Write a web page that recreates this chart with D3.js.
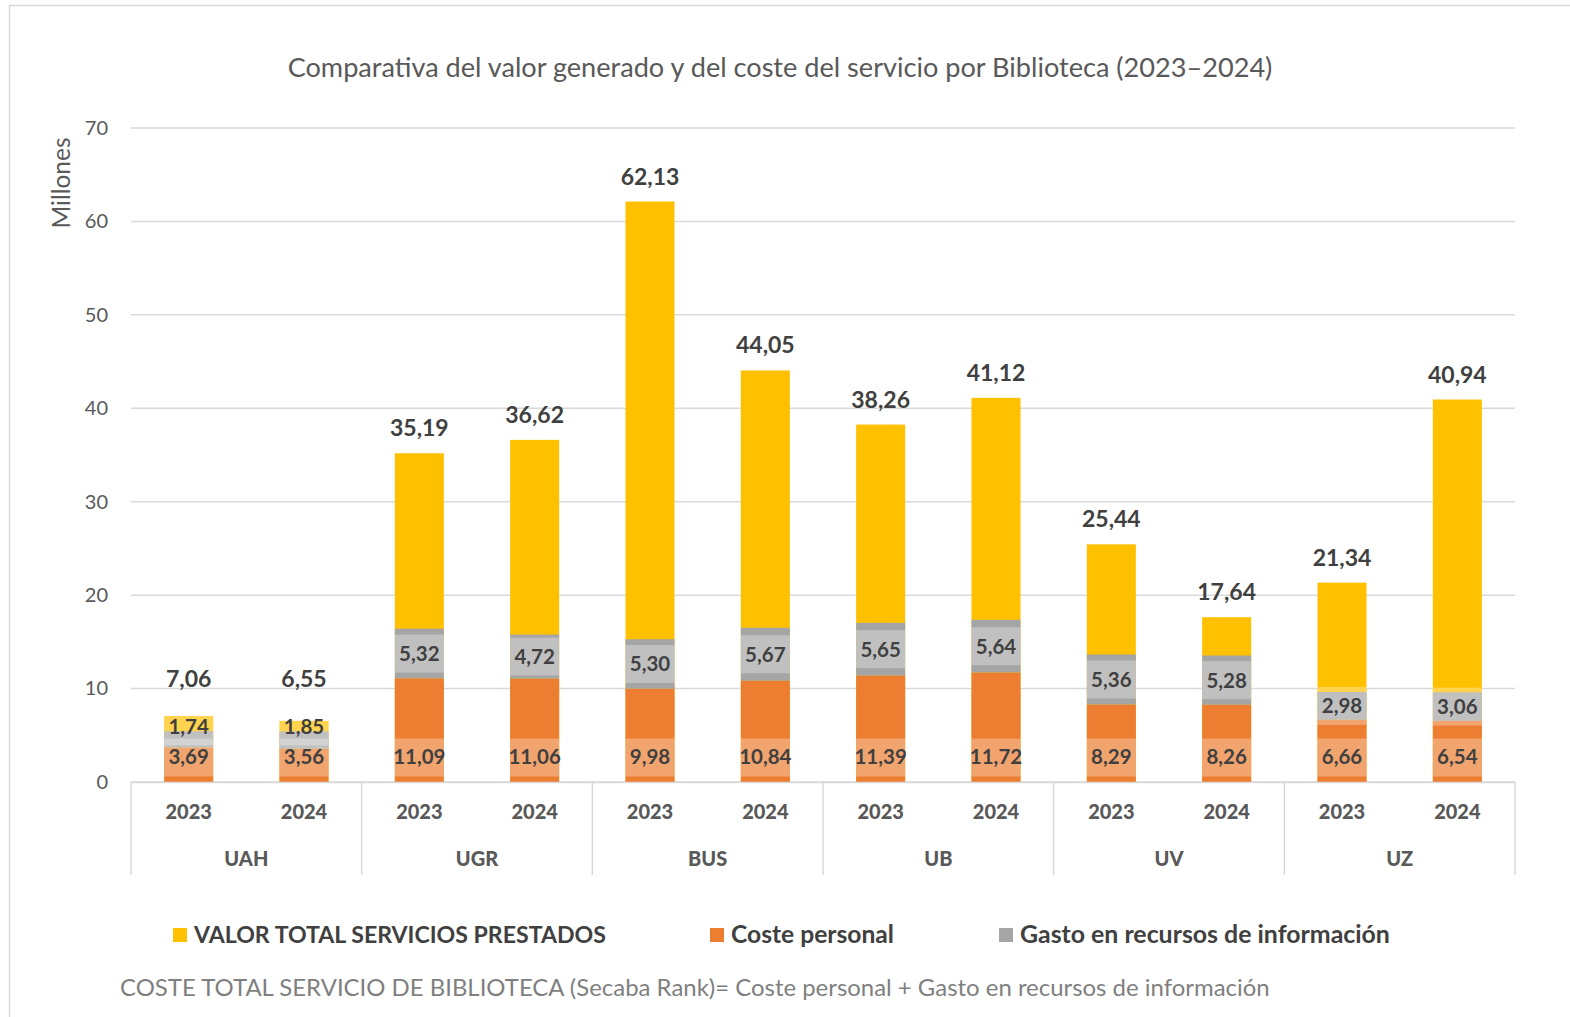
<!DOCTYPE html>
<html><head><meta charset="utf-8">
<script src="https://cdn.jsdelivr.net/npm/d3@7"></script>
<style>html,body{margin:0;padding:0;background:#fff;} svg{display:block;font-family:Lato,"Open Sans",sans-serif;}</style>
</head><body>
<svg id="c" width="1570" height="1017"></svg>
<script>
const groups = ["UAH","UGR","BUS","UB","UV","UZ"];
const years = ["2023","2024"];
const valorTotal = [7.06,6.55,35.19,36.62,62.13,44.05,38.26,41.12,25.44,17.64,21.34,40.94];
const costePersonal = [3.69,3.56,11.09,11.06,9.98,10.84,11.39,11.72,8.29,8.26,6.66,6.54];
const gastoRecursos = [1.74,1.85,5.32,4.72,5.30,5.67,5.65,5.64,5.36,5.28,2.98,3.06];
const yTicks = [0,10,20,30,40,50,60,70];
const seriesNames = ["VALOR TOTAL SERVICIOS PRESTADOS","Coste personal","Gasto en recursos de información"];
const seriesColors = ["#FFC000","#ED7D31","#A5A5A5"];
const title = "Comparativa del valor generado y del coste del servicio por Biblioteca (2023–2024)";
const footer = "COSTE TOTAL SERVICIO DE BIBLIOTECA (Secaba Rank)= Coste personal + Gasto en recursos de información";

const svg = d3.select("#c");
const fmt = v => d3.format(".2f")(v).replace(".", ",");
function fit(sel, w){ const n = sel.node(); let fs = parseFloat(sel.attr("font-size")); const l = n.getComputedTextLength(); sel.attr("font-size", fs*w/l); }

// border
svg.append("rect").attr("x",9.5).attr("y",5.5).attr("width",1600).attr("height",1100)
  .attr("fill","none").attr("stroke","#d9d9d9").attr("stroke-width",1.5);

const cats = d3.range(valorTotal.length);
const x = d3.scaleBand().domain(cats).range([131,1515]).paddingInner(0.575).paddingOuter(0.2875);
const y = d3.scaleLinear().domain([0,70]).range([782,128]);

// gridlines
svg.append("g").selectAll("line").data(yTicks).join("line")
  .attr("x1",131).attr("x2",1515).attr("y1",d=>y(d)).attr("y2",d=>y(d))
  .attr("stroke","#d9d9d9").attr("stroke-width",1.5);

// y axis labels
const yAxis = d3.axisLeft(y).tickValues(yTicks).tickSize(0).tickPadding(0).tickFormat(d3.format("d"));
const ya = svg.append("g").attr("transform","translate(108,0)").call(yAxis);
ya.select(".domain").remove();
ya.selectAll("text").attr("font-size",20).attr("fill","#595959").attr("font-family","Lato");

// title
const t = svg.append("text").attr("x",780).attr("y",77).attr("text-anchor","middle")
  .attr("font-size",24).attr("fill","#595959").text(title);
fit(t,985);

// Millones
const m = svg.append("text").attr("transform","translate(70,183) rotate(-90)").attr("text-anchor","middle")
  .attr("font-size",20).attr("fill","#595959").text("Millones");
fit(m,91);

// bars
const bw = x.bandwidth();
const g = svg.append("g");
g.selectAll(".tot").data(cats).join("rect")
  .attr("x",i=>x(i)).attr("width",bw).attr("y",i=>y(valorTotal[i])).attr("height",i=>y(0)-y(valorTotal[i]))
  .attr("fill",seriesColors[0]);
g.selectAll(".per").data(cats).join("rect")
  .attr("x",i=>x(i)).attr("width",bw).attr("y",i=>y(costePersonal[i])).attr("height",i=>y(0)-y(costePersonal[i]))
  .attr("fill",seriesColors[1]);
g.selectAll(".gas").data(cats).join("rect")
  .attr("x",i=>x(i)).attr("width",bw).attr("y",i=>y(costePersonal[i]+gastoRecursos[i]))
  .attr("height",i=>y(costePersonal[i])-y(costePersonal[i]+gastoRecursos[i]))
  .attr("fill",seriesColors[2]);

// label positions
const boxH = 38;
const perLabelY = i => y(0) - 25;
const gasLabelY = i => {
  const top = y(costePersonal[i]+gastoRecursos[i]), bot = y(costePersonal[i]);
  return (bot-top) < 20 ? top - 5 : (top+bot)/2;
};
const totLabelY = i => Math.min(y(valorTotal[i]) - 17, gasLabelY(i) - 39);
const lab = svg.append("g");
// label background boxes
lab.selectAll(".pb").data(cats).join("rect")
  .attr("x",i=>x(i)).attr("width",bw).attr("y",i=>perLabelY(i)-boxH/2+0.5).attr("height",boxH)
  .attr("fill","#fff").attr("fill-opacity",0.3);
lab.selectAll(".gb").data(cats).join("rect")
  .attr("x",i=>x(i)).attr("width",bw).attr("y",i=>gasLabelY(i)-boxH/2).attr("height",boxH)
  .attr("fill","#fff").attr("fill-opacity",0.3);
// label texts
lab.selectAll(".pt").data(cats).join("text")
  .attr("x",i=>x(i)+bw/2).attr("y",i=>perLabelY(i)).attr("dy","0.36em").attr("text-anchor","middle")
  .attr("font-size",20.5).attr("font-weight","bold").attr("fill","#404040").text(i=>fmt(costePersonal[i]));
lab.selectAll(".gt").data(cats).join("text")
  .attr("x",i=>x(i)+bw/2).attr("y",i=>gasLabelY(i)).attr("dy","0.36em").attr("text-anchor","middle")
  .attr("font-size",20.5).attr("font-weight","bold").attr("fill","#404040").text(i=>fmt(gastoRecursos[i]));
lab.selectAll(".tt").data(cats).join("text")
  .attr("x",i=>x(i)+bw/2).attr("y",i=>totLabelY(i)).attr("text-anchor","middle")
  .attr("font-size",23).attr("font-weight","bold").attr("fill","#404040").text(i=>fmt(valorTotal[i]));

// category axis
svg.append("line").attr("x1",131).attr("x2",1515).attr("y1",782.5).attr("y2",782.5).attr("stroke","#d9d9d9").attr("stroke-width",1.5);
const step = x.step();
svg.append("g").selectAll("line").data(d3.range(groups.length+1)).join("line")
  .attr("x1",k=>131+k*2*step).attr("x2",k=>131+k*2*step).attr("y1",782).attr("y2",875)
  .attr("stroke","#d9d9d9").attr("stroke-width",1.5);
svg.append("g").selectAll("text").data(cats).join("text")
  .attr("x",i=>x(i)+bw/2).attr("y",819).attr("text-anchor","middle")
  .attr("font-size",20).attr("font-weight","900").attr("fill","#595959").text(i=>years[i%2]);
svg.append("g").selectAll("text").data(groups).join("text")
  .attr("x",(d,k)=>131+(k*2+1)*step).attr("y",866).attr("text-anchor","middle")
  .attr("font-size",20).attr("font-weight","900").attr("fill","#595959").text(d=>d);

// legend
const legX = [173,710,999], legW = [412,163,370];
const leg = svg.append("g");
seriesNames.forEach((s,k)=>{
  leg.append("rect").attr("x",legX[k]).attr("y",928).attr("width",14).attr("height",14).attr("fill",seriesColors[k]);
  const tt = leg.append("text").attr("x",legX[k]+21).attr("y",943).attr("font-size",22).attr("font-weight","bold")
    .attr("fill","#404040").text(s);
  fit(tt,legW[k]);
});

// footer
const f = svg.append("text").attr("x",120).attr("y",996).attr("font-size",22).attr("fill","#7f7f7f").text(footer);
fit(f,1150);
</script>
</body></html>
